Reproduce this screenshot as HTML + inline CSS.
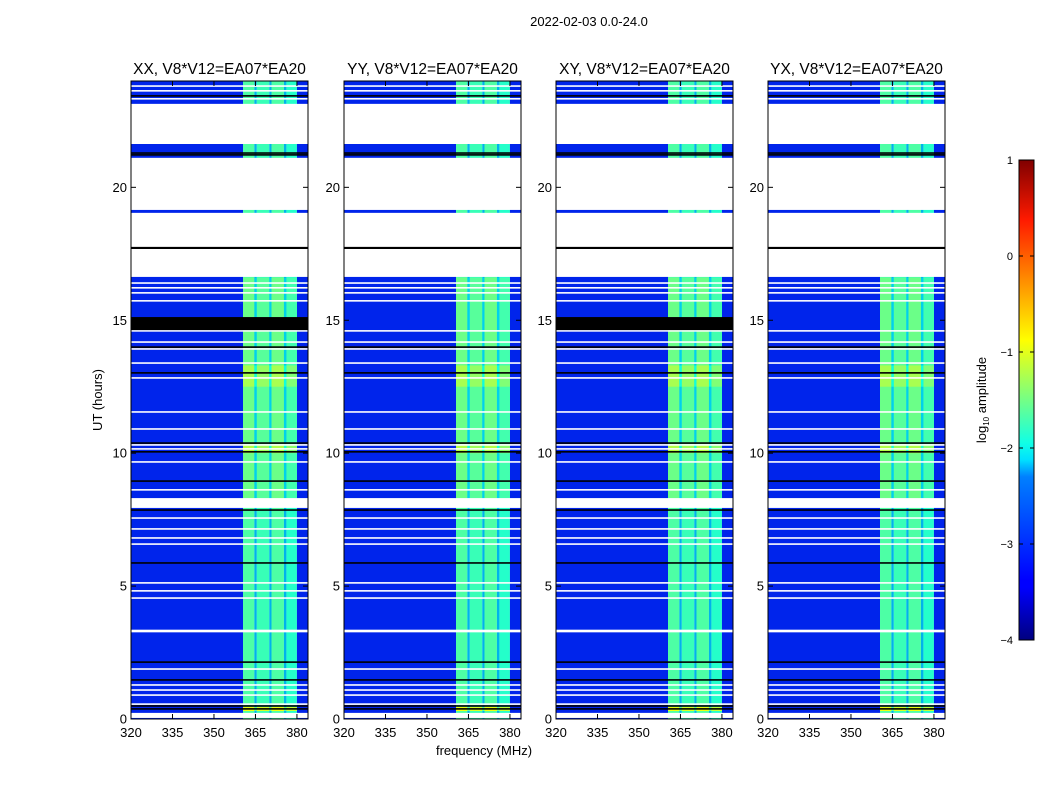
<!DOCTYPE html>
<html><head><meta charset="utf-8"><style>
body{margin:0;background:#fff;font-family:"Liberation Sans",sans-serif}
svg text{font-family:"Liberation Sans",sans-serif}
</style></head><body>
<svg id="fig" width="1050" height="800" viewBox="0 0 1050 800">
<text x="589" y="26" font-size="13" text-anchor="middle">2022-02-03 0.0-24.0</text>
<text transform="translate(102,400) rotate(-90)" font-size="13" text-anchor="middle">UT (hours)</text>
<text x="484" y="755" font-size="13" text-anchor="middle">frequency (MHz)</text>
<g id="panels"></g>
<defs><linearGradient id="jet" x1="0" y1="1" x2="0" y2="0">
<stop offset="0" stop-color="#00007f"/><stop offset="0.11" stop-color="#0000ff"/><stop offset="0.125" stop-color="#0000ff"/><stop offset="0.34" stop-color="#0080ff"/><stop offset="0.375" stop-color="#00e0ff"/><stop offset="0.41" stop-color="#10ffe6"/><stop offset="0.625" stop-color="#ffff00"/><stop offset="0.875" stop-color="#ff1a00"/><stop offset="1" stop-color="#800000"/>
</linearGradient></defs>
<rect x="1019" y="160" width="15" height="480" fill="url(#jet)" stroke="#000" stroke-width="1"/>
<g id="cbticks" font-size="11" text-anchor="end"></g>
<text transform="translate(986,400) rotate(-90)" font-size="13" text-anchor="middle">log<tspan font-size="8" dy="3">10</tspan><tspan dy="-3"> amplitude</tspan></text>
</svg>
<script>
const panelTitles = ["XX, V8*V12=EA07*EA20","YY, V8*V12=EA07*EA20","XY, V8*V12=EA07*EA20","YX, V8*V12=EA07*EA20"];
const freqEdges = [320,360.5,364.6,365.5,370,370.8,375.3,376.2,380,384];
const chanLevel = [-3.2,-1.75,-2.5,-1.85,-2.5,-1.75,-2.5,-1.95,-3.2];
const boosts = [[23.85,24,0.8],[16.6,8.3,0.15],[13.3,12.5,0.45],[10.3,10.0,0.5],[0.45,0.3,0.8]];
const whiteRows = [[23.78,23.84],[23.6,23.66],[23.3,23.36],[21.63,23.14],[19.15,21.11],[16.63,19.04],[16.37,16.43],[16.19,16.25],[16.0,16.06],[15.7,15.76],[14.57,14.63],[14.15,14.21],[13.89,13.95],[13.36,13.42],[12.8,12.86],[11.52,11.58],[10.88,10.94],[10.28,10.34],[10.13,10.19],[9.64,9.7],[8.59,8.65],[7.94,8.31],[7.53,7.59],[7.12,7.18],[6.78,6.84],[6.55,6.61],[5.09,5.15],[4.79,4.85],[4.52,4.58],[3.26,3.36],[1.85,1.91],[1.25,1.31],[1.06,1.12],[0.87,0.93],[0.53,0.59],[0.04,0.23]];
const blackRows = [[23.41,23.47],[21.26,21.32],[21.19,21.25],[17.68,17.76],[13.96,14.02],[12.99,13.05],[10.35,10.41],[10.02,10.08],[8.92,8.98],[7.83,7.89],[5.84,5.9],[2.11,2.17],[1.44,1.5],[0.46,0.52],[0.35,0.41]];
const blackBar = [14.63,15.12];
const hasBlackBar = [true,false,true,false];
const yTicks = [0,5,10,15,20];
const xTicks = [320,335,350,365,380];
const cbTicks = [1,0,-1,-2,-3,-4];

const panelX = [131,344,556,768], PW=177, PY=81, PH=638;
const fx = (x0,f)=>x0+(f-320)/(384-320)*PW;
const hy = h=>PY+PH-(h/24)*PH;
function clip(v){return Math.max(0,Math.min(1,v));}
function jet(v){const t=clip((v+4)/5);const r=clip(1.5-Math.abs(4*t-3)),g=clip(1.5-Math.abs(4*t-2)),b=clip(1.5-Math.abs(4*t-1));
 return `rgb(${Math.round(r*255)},${Math.round(g*255)},${Math.round(b*235)})`;}
const NS="http://www.w3.org/2000/svg";
function mk(tag,attrs,parent){const e=document.createElementNS(NS,tag);for(const k in attrs)e.setAttribute(k,attrs[k]);parent.appendChild(e);return e;}
const root=document.getElementById('panels');
panelTitles.forEach((title,p)=>{
 const x0=panelX[p];
 const g=mk('g',{},root);
 
 
 for(let i=0;i<chanLevel.length;i++){
  const r=mk('rect',{x:fx(x0,freqEdges[i]),y:PY,width:fx(x0,freqEdges[i+1])-fx(x0,freqEdges[i]),height:PH,fill:jet(chanLevel[i])},g);
  
  
 }
 boosts.forEach(b=>{
  for(let i=0;i<chanLevel.length;i++){ if(chanLevel[i]<-3)continue;
   const r=mk('rect',{x:fx(x0,freqEdges[i]),y:hy(b[0]),width:fx(x0,freqEdges[i+1])-fx(x0,freqEdges[i]),height:hy(b[1])-hy(b[0]),fill:jet(chanLevel[i]+b[2])},g);
   
   
  }
 });
 whiteRows.forEach(w=>{
  const r=mk('rect',{x:x0,y:hy(w[1]),width:PW,height:Math.max(1.2,hy(w[0])-hy(w[1])),fill:'#fff'},g);
  
  
 });
 blackRows.forEach(w=>{
  const r=mk('rect',{x:x0,y:hy(w[1]),width:PW,height:Math.max(1.2,hy(w[0])-hy(w[1])),fill:'#000'},g);
  
  
 });
 if(hasBlackBar[p]){
  const r=mk('rect',{x:x0,y:hy(blackBar[1]),width:PW,height:hy(blackBar[0])-hy(blackBar[1]),fill:'#000'},g);
  
  
 }
 const fr=mk('rect',{x:x0,y:PY,width:PW,height:PH,fill:'none',stroke:'#000','stroke-width':1},g);
 
 
 const t=mk('text',{x:x0+PW/2,y:74,'font-size':15.5,'text-anchor':'middle'},g);t.textContent=title;
 
 
 yTicks.forEach(v=>{const y=hy(v);
  mk('line',{x1:x0,x2:x0+5,y1:y,y2:y,stroke:'#000'},g);mk('line',{x1:x0+PW-5,x2:x0+PW,y1:y,y2:y,stroke:'#000'},g);
  const l=mk('text',{x:x0-4,y:y+4.5,'font-size':13,'text-anchor':'end'},g);l.textContent=v;
  
  });
 xTicks.forEach(v=>{const x=fx(x0,v);
  mk('line',{x1:x,x2:x,y1:PY+PH,y2:PY+PH-5,stroke:'#000'},g);mk('line',{x1:x,x2:x,y1:PY,y2:PY+5,stroke:'#000'},g);
  const l=mk('text',{x:x,y:737,'font-size':13,'text-anchor':'middle'},g);l.textContent=v;
  
  });
});
const cb=document.getElementById('cbticks');
cbTicks.forEach(v=>{const y=160+(1-v)/5*480;
 mk('line',{x1:1019,x2:1023,y1:y,y2:y,stroke:'#000'},cb);mk('line',{x1:1030,x2:1034,y1:y,y2:y,stroke:'#000'},cb);
 const l=mk('text',{x:1013,y:y+4},cb);l.textContent=v<0?'\u2212'+(-v):v;
 
 });
</script>
</body></html>
